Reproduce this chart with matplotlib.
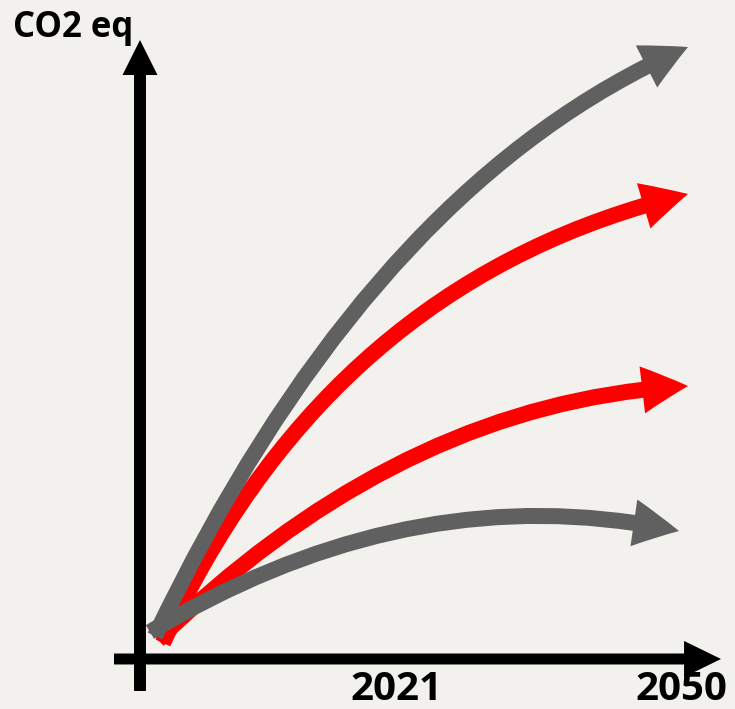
import matplotlib
matplotlib.use('Agg')
import matplotlib.pyplot as plt
from matplotlib.patches import FancyArrowPatch
from matplotlib.path import Path

plt.rcParams['font.family'] = ['Open Sans', 'DejaVu Sans']

# canvas is in pixels of the original slide, origin top-left
W, H = 735, 709
BG = '#f2f1ed'

# scenario curves: start point, quadratic bezier control point, arrow tip
curve_start = [(155, 636), (163, 643), (158, 640), (150, 632)]
curve_ctrl = [(371, 184), (331, 279), (403, 401), (413, 474)]
curve_tip = [(688, 47), (688, 194), (688, 386), (679, 531)]
curve_color = ['#606060', '#ff0000', '#ff0000', '#606060']
draw_order = [1, 2, 0, 3]

# axis arrows (start, tip)
y_axis = [(140, 691), (140, 40)]
x_axis = [(114, 659), (721, 659)]

y_label = 'CO2 eq'
year_labels = ['2021', '2050']
year_x = [396, 681]


def add_arrow(ax, p0, c, p1, color, tail, head_w, head_l):
    # sizes are in points (mutation_scale=1)
    style = 'simple,tail_width=%g,head_width=%g,head_length=%g' % (tail, head_w, head_l)
    path = Path([p0, c, p1], [Path.MOVETO, Path.CURVE3, Path.CURVE3])
    arr = FancyArrowPatch(path=path, arrowstyle=style, mutation_scale=1,
                          facecolor=color, edgecolor='none', lw=0)
    ax.add_patch(arr)


def midpoint(a, b):
    return ((a[0] + b[0]) / 2, (a[1] + b[1]) / 2)


fig = plt.figure(figsize=(W / 100, H / 100), dpi=100)
fig.patch.set_facecolor(BG)
ax = fig.add_axes([0, 0, 1, 1])
ax.set_xlim(0, W)
ax.set_ylim(H, 0)
ax.axis('off')

# axes
add_arrow(ax, y_axis[0], midpoint(*y_axis), y_axis[1], 'black', 8.6, 25.2, 25.2)
add_arrow(ax, x_axis[0], midpoint(*x_axis), x_axis[1], 'black', 7.9, 26, 26.6)

# curves
for i in draw_order:
    add_arrow(ax, curve_start[i], curve_ctrl[i], curve_tip[i], curve_color[i],
              11.5, 34, 33)

ax.text(13, 37, y_label, fontsize=25, fontweight='bold', ha='left', va='baseline')
# years sit right on the bottom edge, keep the text box inside the canvas
for lab, x in zip(year_labels, year_x):
    ax.text(x, H - 0.5, lab, fontsize=29, fontweight='bold', ha='center', va='bottom')

fig.savefig('out.png', dpi=100, facecolor=BG)
